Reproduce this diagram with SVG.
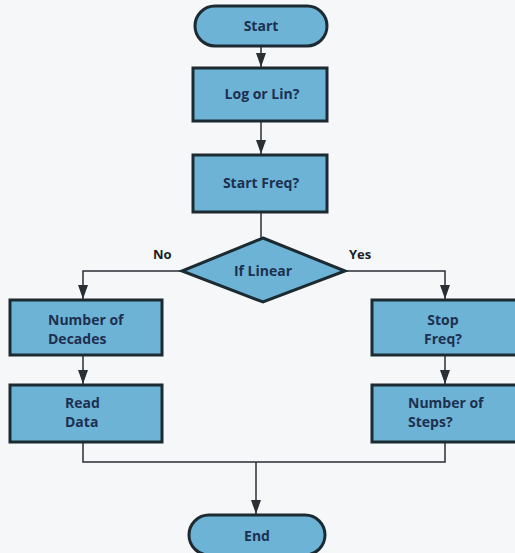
<svg xmlns="http://www.w3.org/2000/svg" width="515" height="553" viewBox="0 0 515 553">
<defs>
<style>
.n{fill:#6db3d6;stroke:#1c2a32;stroke-width:3}
.t{font-family:"Open Sans","Liberation Sans",sans-serif;font-weight:bold;font-size:14px;fill:#1d3050}
.c{text-anchor:middle}
.l{fill:none;stroke:#2a2f33;stroke-width:1.5}
.lab{font-family:"Open Sans","Liberation Sans",sans-serif;font-weight:bold;font-size:13px;fill:#1a1f26}
</style>
<marker id="ah" markerWidth="14" markerHeight="10" refX="14" refY="5" orient="auto" markerUnits="userSpaceOnUse" viewBox="0 0 14 10">
<path d="M0,0 L14,5 L0,10 Z" fill="#2a2f33"/>
</marker>
</defs>
<rect width="515" height="553" fill="#f5f7f9"/>
<g id="connectors">
<line class="l" x1="261" y1="46" x2="261" y2="67" marker-end="url(#ah)"/>
<line class="l" x1="261" y1="121" x2="261" y2="154" marker-end="url(#ah)"/>
<line class="l" x1="261" y1="212" x2="261" y2="238"/>
<polyline class="l" points="182,271 83,271 83,299" marker-end="url(#ah)"/>
<polyline class="l" points="345,271 445,271 445,299" marker-end="url(#ah)"/>
<line class="l" x1="83" y1="355" x2="83" y2="384" marker-end="url(#ah)"/>
<line class="l" x1="445" y1="355" x2="445" y2="384" marker-end="url(#ah)"/>
<polyline class="l" points="83,442 83,462 445,462 445,442"/>
<line class="l" x1="256" y1="462" x2="256" y2="514" marker-end="url(#ah)"/>
<text class="lab" x="153" y="259">No</text>
<text class="lab" x="349" y="259">Yes</text>
</g>
<g id="start">
<rect class="n" x="195" y="6" width="132" height="40" rx="20"/>
<text class="t c" x="261" y="31">Start</text>
</g>
<g id="logorlin">
<rect class="n" x="193" y="68" width="134" height="53"/>
<text class="t c" x="262" y="99">Log or Lin?</text>
</g>
<g id="startfreq">
<rect class="n" x="193" y="155" width="134" height="57"/>
<text class="t c" x="261" y="188">Start Freq?</text>
</g>
<g id="iflinear">
<polygon class="n" points="263,238 345,271 263,302 182,271"/>
<text class="t c" x="263" y="276">If Linear</text>
</g>
<g id="decades">
<rect class="n" x="10" y="300" width="152" height="55"/>
<text class="t" x="48" y="325">Number of</text>
<text class="t" x="48" y="344">Decades</text>
</g>
<g id="readdata">
<rect class="n" x="10" y="385" width="152" height="57"/>
<text class="t" x="65" y="408">Read</text>
<text class="t" x="65" y="427">Data</text>
</g>
<g id="stopfreq">
<rect class="n" x="372" y="300" width="145" height="55"/>
<text class="t c" x="443" y="325">Stop</text>
<text class="t c" x="443" y="344">Freq?</text>
</g>
<g id="steps">
<rect class="n" x="372" y="385" width="145" height="57"/>
<text class="t" x="408" y="408">Number of</text>
<text class="t" x="408" y="427">Steps?</text>
</g>
<g id="end">
<rect class="n" x="189" y="515" width="136" height="40" rx="20"/>
<text class="t c" x="257" y="541">End</text>
</g>
</svg>
